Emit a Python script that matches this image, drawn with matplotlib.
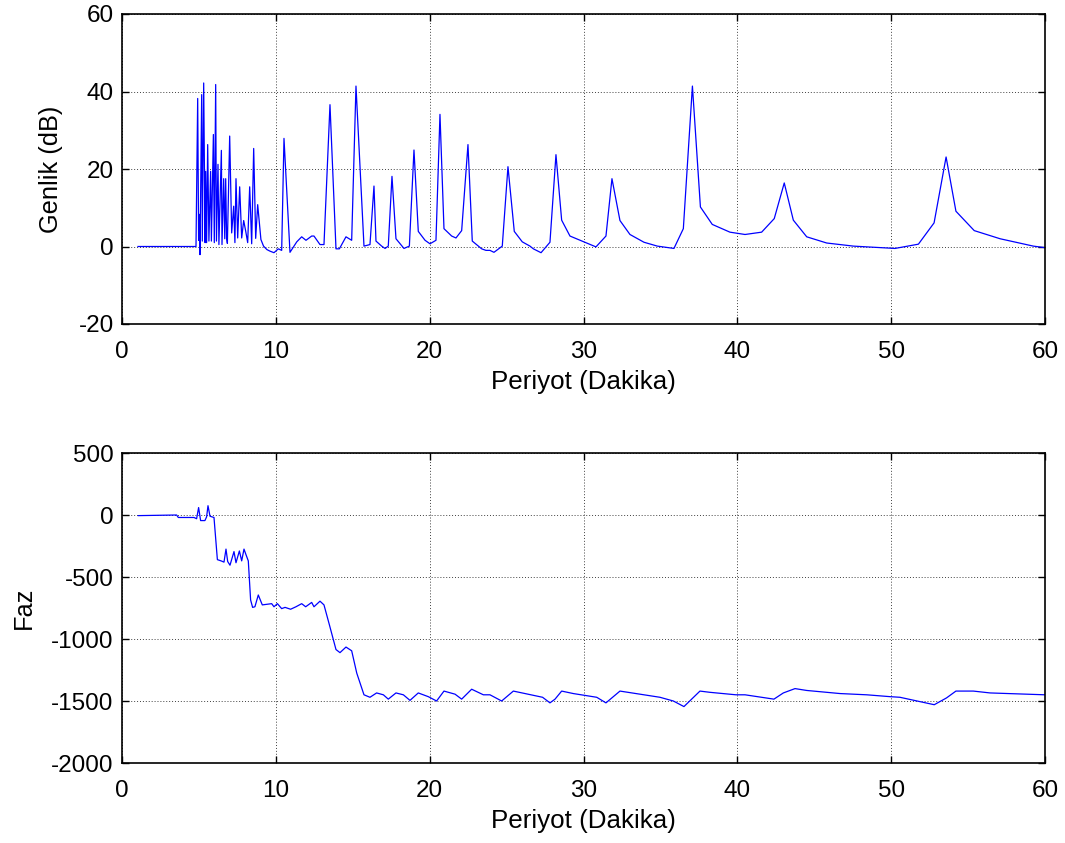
import matplotlib
matplotlib.use("Agg")
import matplotlib.pyplot as plt

plt.rcParams['font.family'] = ['Liberation Sans', 'DejaVu Sans']
plt.rcParams['axes.unicode_minus'] = False

# ---- Genlik (amplitude) data: period (min) vs dB ----
amp_period = [1.04, 4.81, 4.92, 4.98, 5.02, 5.07, 5.18, 5.22, 5.31, 5.35, 5.40, 5.44, 5.50,
              5.57, 5.65, 5.76, 5.81, 5.94, 6.00, 6.09, 6.14, 6.24, 6.30, 6.46, 6.50, 6.61,
              6.68, 6.74, 6.80, 6.85, 7.00, 7.13, 7.26, 7.34, 7.41, 7.52, 7.65, 7.78, 7.91,
              8.04, 8.17, 8.30, 8.43, 8.56, 8.69, 8.82, 9.03, 9.20, 9.42, 9.62, 9.88, 10.16,
              10.38, 10.53, 10.92, 11.36, 11.68, 11.96, 12.33, 12.48, 12.87, 13.13, 13.52,
              13.91, 14.13, 14.56, 14.93, 15.21, 15.73, 16.12, 16.38, 16.51, 16.88, 17.10,
              17.31, 17.55, 17.81, 18.33, 18.68, 18.98, 19.26, 19.70, 20.02, 20.41, 20.67,
              20.93, 21.43, 21.71, 22.08, 22.49, 22.77, 23.38, 23.66, 23.92, 24.18, 24.72,
              25.09, 25.50, 26.02, 26.52, 26.74, 27.24, 27.82, 28.21, 28.58, 29.12, 30.81,
              31.46, 31.85, 32.37, 33.02, 33.93, 34.80, 35.88, 36.49, 37.08, 37.60, 38.37,
              39.52, 40.50, 41.58, 42.40, 43.05, 43.64, 44.51, 45.81, 47.54, 50.25, 51.77,
              52.79, 53.57, 54.21, 55.40, 57.08, 59.24, 60.00]
amp_db = [0.0, 0.0, 38.2, 1.6, 8.3, -2.1, 39.2, 1.4, 42.2, 24.2, 1.0, 19.4, 1.0,
          26.3, 1.4, 19.4, 1.4, 28.9, 1.0, 41.8, 1.4, 21.2, 0.5, 24.8, 0.5, 17.5,
          2.0, 17.5, 2.2, 0.8, 28.5, 3.5, 10.4, 1.0, 17.5, 2.2, 15.4, 2.2, 6.7,
          4.0, 1.0, 15.4, 0.7, 25.3, 2.1, 10.8, 1.8, 0.1, -0.8, -1.2, -1.6, -0.6,
          -1.0, 27.9, -1.5, 1.2, 2.5, 1.6, 2.7, 2.7, 0.5, 0.5, 36.6,
          -0.6, -0.6, 2.5, 1.6, 41.4, 0.1, 0.5, 15.6, 1.4, 0.1, -0.5,
          0.1, 18.1, 2.0, -0.5, 0.1, 24.9, 3.9, 1.6, 0.7, 1.6, 34.1,
          4.6, 2.7, 2.2, 4.1, 26.3, 1.4, -0.6, -1.0, -1.0, -1.5, 0.1,
          20.6, 3.9, 1.2, 0.1, -0.6, -1.6, 1.1, 23.7, 6.8, 2.7, -0.1,
          2.7, 17.5, 6.7, 3.1, 1.1, 0.1, -0.5, 4.6, 41.4, 10.2, 5.7,
          3.7, 3.1, 3.7, 7.2, 16.4, 6.8, 2.5, 0.9, 0.1, -0.5, 0.6,
          6.1, 23.1, 9.1, 4.1, 2.0, 0.1, -0.3]

# ---- Faz (phase) data ----
ph_period = [1.06, 3.55, 3.66, 4.68, 4.85, 4.98, 5.11, 5.39, 5.50, 5.59, 5.72, 5.98, 6.20,
             6.44, 6.63, 6.76, 6.87, 7.02, 7.28, 7.41, 7.63, 7.78, 7.93, 8.06, 8.21, 8.36,
             8.49, 8.64, 8.86, 9.12, 9.73, 9.88, 10.10, 10.38, 10.60, 10.96, 11.31, 11.68,
             11.94, 12.33, 12.48, 12.87, 13.13, 13.48, 13.91, 14.17, 14.56, 14.93, 15.26,
             15.73, 16.12, 16.55, 16.99, 17.31, 17.81, 18.29, 18.72, 19.26, 19.91, 20.45,
             20.93, 21.65, 22.08, 22.73, 23.49, 23.92, 24.68, 25.44, 27.34, 27.82, 28.15,
             28.58, 29.34, 30.86, 31.46, 32.37, 34.97, 35.84, 36.53, 37.57, 38.22, 39.91,
             40.50, 42.38, 42.99, 43.75, 44.51, 46.68, 48.41, 49.93, 50.57, 52.80, 53.60,
             54.21, 55.34, 56.43, 60.00]
ph_deg = [-5, 0, -20, -20, -30, 60, -45, -45, -15, 75, -10, -20, -360,
          -370, -380, -275, -375, -405, -295, -385, -290, -370, -275, -320, -370, -685,
          -745, -740, -645, -725, -715, -740, -715, -755, -745, -760, -740, -715,
          -740, -705, -740, -695, -725, -885, -1085, -1110, -1065, -1095, -1275,
          -1450, -1470, -1435, -1450, -1485, -1435, -1450, -1495, -1435, -1465, -1500,
          -1420, -1445, -1485, -1405, -1450, -1450, -1500, -1420, -1470, -1515, -1485,
          -1420, -1440, -1470, -1515, -1420, -1470, -1500, -1545, -1420, -1430, -1450,
          -1450, -1485, -1435, -1400, -1415, -1440, -1450, -1465, -1470, -1530, -1475,
          -1420, -1420, -1435, -1450]

x_ticks = [0, 10, 20, 30, 40, 50, 60]
amp_ticks = [-20, 0, 20, 40, 60]
ph_ticks = [-2000, -1500, -1000, -500, 0, 500]

fig = plt.figure(figsize=(10.65, 8.43), dpi=100)
W, H = 1065, 843
ax1 = fig.add_axes([122 / W, 1 - 324 / H, 923 / W, 310 / H])
ax2 = fig.add_axes([122 / W, 1 - 763 / H, 923 / W, 310 / H])

ax1.plot(amp_period, amp_db, color=(0, 0, 1), lw=0.9)
ax2.plot(ph_period, ph_deg, color=(0, 0, 1), lw=0.9)

for ax, yt, ylab in [(ax1, amp_ticks, 'Genlik (dB)'), (ax2, ph_ticks, 'Faz')]:
    ax.set_xlim(0, 60)
    ax.set_ylim(yt[0], yt[-1])
    ax.set_xticks(x_ticks)
    ax.set_yticks(yt)
    ax.grid(True, color=(0.25, 0.25, 0.25), linestyle=(0, (1, 2)), linewidth=0.7)
    ax.tick_params(direction='in', length=5, width=1, top=True, right=True,
                   labelsize=17.5)
    ax.tick_params(axis='x', pad=12)
    ax.tick_params(axis='y', pad=6)
    for s in ax.spines.values():
        s.set_linewidth(1.2)
    ax.set_xlabel('Periyot (Dakika)', fontsize=18.7, labelpad=5)
    ax.set_ylabel(ylab, fontsize=18.3, labelpad=11)

fig.savefig('out.png', dpi=100)
